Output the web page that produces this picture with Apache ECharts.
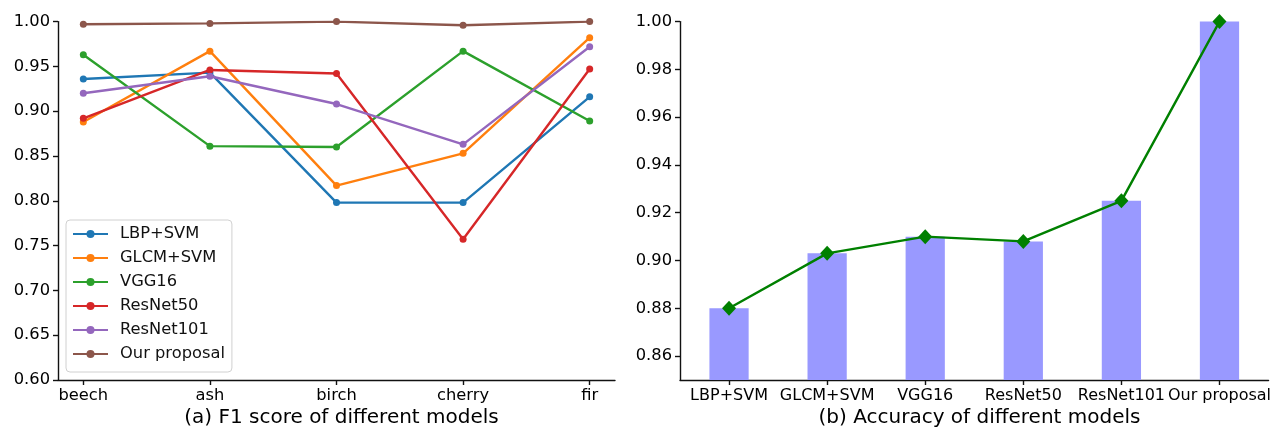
<!DOCTYPE html>
<html>
<head>
<meta charset="utf-8">
<script src="https://cdn.jsdelivr.net/npm/echarts@6/dist/echarts.min.js"></script>
<style>html,body{margin:0;padding:0;background:#fff;}#c{width:1274px;height:430px;}</style>
</head>
<body>
<div id="c"></div>
<script>
// ---- data ----
const trees = ['beech', 'ash', 'birch', 'cherry', 'fir'];
const modelNames = ['LBP+SVM', 'GLCM+SVM', 'VGG16', 'ResNet50', 'ResNet101', 'Our proposal'];
const f1LBP = [0.936, 0.943, 0.798, 0.798, 0.916];
const f1GLCM = [0.888, 0.967, 0.817, 0.853, 0.982];
const f1VGG16 = [0.963, 0.861, 0.860, 0.967, 0.889];
const f1ResNet50 = [0.892, 0.946, 0.942, 0.757, 0.947];
const f1ResNet101 = [0.920, 0.939, 0.908, 0.863, 0.972];
const f1Ours = [0.997, 0.998, 1.000, 0.996, 1.000];
const accuracy = [0.880, 0.903, 0.910, 0.908, 0.925, 1.000];
const f1Ticks = [0.60, 0.65, 0.70, 0.75, 0.80, 0.85, 0.90, 0.95, 1.00];
const accTicks = [0.86, 0.88, 0.90, 0.92, 0.94, 0.96, 0.98, 1.00];
const treeTicks = [0, 1, 2, 3, 4];

const f1Series = [f1LBP, f1GLCM, f1VGG16, f1ResNet50, f1ResNet101, f1Ours];
const colors = ['#1f77b4', '#ff7f0e', '#2ca02c', '#d62728', '#9467bd', '#8c564b'];
const FONT = 'DejaVu Sans';
const FS = 16.3;
const axisLineStyle = { color: '#111', width: 1.4 };

const chart = echarts.init(document.getElementById('c'));
const option = {
  animation: false,
  textStyle: { fontFamily: FONT },
  grid: [
    { left: 58, right: 659, top: 21.6, bottom: 50 },
    { left: 680, right: 5, top: 21.6, bottom: 50 }
  ],
  title: [
    { text: '(a) F1 score of different models', left: 336.5, top: 403, textAlign: 'center',
      textStyle: { fontFamily: FONT, fontSize: 20, fontWeight: 'normal', color: '#000' } },
    { text: '(b) Accuracy of different models', left: 974.5, top: 403, textAlign: 'center',
      textStyle: { fontFamily: FONT, fontSize: 20, fontWeight: 'normal', color: '#000' } }
  ],
  legend: {
    orient: 'vertical', left: 66, top: 220,
    data: modelNames,
    itemWidth: 35, itemHeight: 10, itemGap: 8,
    padding: [6, 7, 10, 6],
    borderColor: '#d0d0d0', borderWidth: 1, borderRadius: 4,
    backgroundColor: 'rgba(255,255,255,0.8)',
    textStyle: { fontFamily: FONT, fontSize: FS, lineHeight: 15.5, color: '#111', padding: [0, 0, 0, 7] }
  },
  xAxis: [
    {
      gridIndex: 0, type: 'value', min: -0.2, max: 4.2,
      axisLine: { show: true, onZero: false, lineStyle: axisLineStyle },
      axisTick: { show: true, customValues: treeTicks, length: 5, inside: false, lineStyle: axisLineStyle },
      axisLabel: { customValues: treeTicks, formatter: v => trees[Math.round(v)], fontFamily: FONT, fontSize: FS, color: '#000', margin: 8 },
      splitLine: { show: false }
    },
    {
      gridIndex: 1, type: 'category', data: modelNames, boundaryGap: true,
      axisLine: { show: true, onZero: false, lineStyle: axisLineStyle },
      axisTick: { show: true, alignWithLabel: true, length: 5, lineStyle: axisLineStyle },
      axisLabel: { interval: 0, fontFamily: FONT, fontSize: 16, color: '#000', margin: 8 },
      splitLine: { show: false }
    }
  ],
  yAxis: [
    {
      gridIndex: 0, type: 'value', min: 0.6, max: 1.0,
      axisLine: { show: true, onZero: false, lineStyle: axisLineStyle },
      axisTick: { show: true, customValues: f1Ticks, length: 5, lineStyle: axisLineStyle },
      axisLabel: { customValues: f1Ticks, formatter: v => v.toFixed(2), fontFamily: FONT, fontSize: FS, color: '#000', margin: 8 },
      splitLine: { show: false }
    },
    {
      gridIndex: 1, type: 'value', min: 0.85, max: 1.0,
      axisLine: { show: true, onZero: false, lineStyle: axisLineStyle },
      axisTick: { show: true, customValues: accTicks, length: 5, lineStyle: axisLineStyle },
      axisLabel: { customValues: accTicks, formatter: v => v.toFixed(2), fontFamily: FONT, fontSize: FS, color: '#000', margin: 8 },
      splitLine: { show: false }
    }
  ],
  series: [
    ...f1Series.map((vals, k) => ({
      name: modelNames[k], type: 'line', xAxisIndex: 0, yAxisIndex: 0,
      data: vals.map((v, i) => [i, v]),
      symbol: 'circle', symbolSize: 7,
      lineStyle: { color: colors[k], width: 2.4 },
      itemStyle: { color: colors[k], borderWidth: 0 },
      z: 2 + k
    })),
    {
      name: 'acc-bar', type: 'bar', xAxisIndex: 1, yAxisIndex: 1,
      data: accuracy, barWidth: '40%',
      itemStyle: { color: '#9999ff' }, z: 2
    },
    {
      name: 'acc-line', type: 'line', xAxisIndex: 1, yAxisIndex: 1,
      data: accuracy, symbol: 'diamond', symbolSize: [14, 15],
      lineStyle: { color: '#008000', width: 2.4 },
      itemStyle: { color: '#008000', borderWidth: 0 }, z: 5
    }
  ]
};
chart.setOption(option);
</script>
</body>
</html>
